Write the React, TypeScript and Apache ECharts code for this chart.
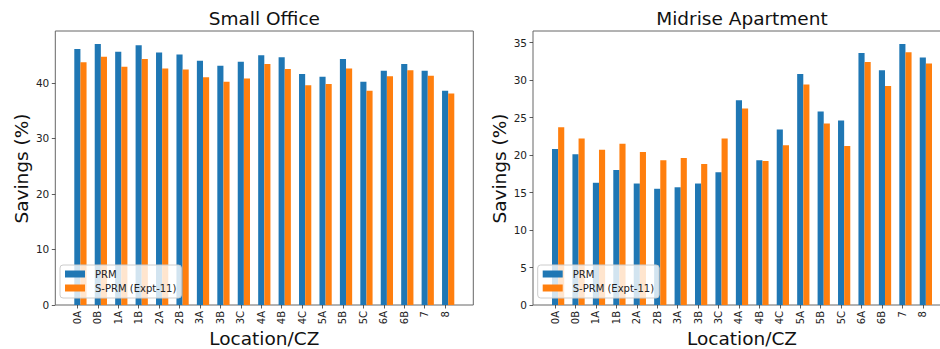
import React, { useEffect, useRef } from "react";
import * as echarts from "echarts";

const categories = ["0A", "0B", "1A", "1B", "2A", "2B", "3A", "3B", "3C", "4A", "4B", "4C", "5A", "5B", "5C", "6A", "6B", "7", "8"];
const officePRM = [46.1, 47.0, 45.6, 46.8, 45.5, 45.1, 44.0, 43.1, 43.8, 45.0, 44.6, 41.6, 41.1, 44.3, 40.2, 42.2, 43.4, 42.2, 38.6];
const officeSPRM = [43.7, 44.7, 42.9, 44.3, 42.6, 42.4, 41.0, 40.2, 40.8, 43.4, 42.5, 39.6, 39.8, 42.6, 38.6, 41.2, 42.3, 41.3, 38.1];
const aptPRM = [20.8, 20.1, 16.3, 18.0, 16.2, 15.5, 15.7, 16.2, 17.7, 27.3, 19.3, 23.4, 30.8, 25.8, 24.6, 33.6, 31.3, 34.8, 33.0];
const aptSPRM = [23.7, 22.2, 20.7, 21.5, 20.4, 19.3, 19.6, 18.8, 22.2, 26.2, 19.2, 21.3, 29.4, 24.2, 21.2, 32.4, 29.2, 33.7, 32.2];
const officeTicks = [0, 10, 20, 30, 40];
const aptTicks = [0, 5, 10, 15, 20, 25, 30, 35];
const seriesNames = ["PRM", "S-PRM (Expt-11)"];
const titles = ["Small Office", "Midrise Apartment"];

const FONT = "DejaVu Sans";
const BLUE = "#1f77b4";
const ORANGE = "#ff7f0e";
const BAR_W = 0.3;
const XMIN = -1.08;
const XMAX = 19.38;

export default function App() {
  const ref = useRef<HTMLDivElement>(null);
  useEffect(() => {
    if (!ref.current) return;
    const chart = echarts.init(ref.current, undefined, { renderer: "svg" });

    const grids = [
      { left: 55.3, top: 31, width: 418, height: 274 },
      { left: 533, top: 31, width: 418, height: 274 },
    ];
    const yMax = [Math.max(...officePRM, ...officeSPRM) * 1.05, Math.max(...aptPRM, ...aptSPRM) * 1.05];
    const yTicks = [officeTicks, aptTicks];
    const data = [
      [officePRM, officeSPRM],
      [aptPRM, aptSPRM],
    ];
    const idx = categories.map((_, i) => i);

    const xAxis: any[] = [];
    const yAxis: any[] = [];
    const series: any[] = [];
    const legend: any[] = [];
    const graphic: any[] = [];

    grids.forEach((g, gi) => {
      const pxPerUnit = g.width / (XMAX - XMIN);
      xAxis.push({
        type: "value",
        gridIndex: gi,
        min: XMIN,
        max: XMAX,
        axisLine: { show: false, onZero: false },
        splitLine: { show: false },
        axisTick: { show: true, customValues: idx, length: 3.5, lineStyle: { color: "#333", width: 0.8 } },
        axisLabel: {
          customValues: idx,
          rotate: 90,
          margin: 6,
          fontSize: 10,
          fontFamily: FONT,
          color: "#222",
          formatter: (v: number) => categories[Math.round(v)] ?? "",
        },
      });
      yAxis.push({
        type: "value",
        gridIndex: gi,
        min: 0,
        max: yMax[gi],
        axisLine: { show: false, onZero: false },
        splitLine: { show: false },
        axisTick: { show: true, customValues: yTicks[gi], length: 3.5, lineStyle: { color: "#333", width: 0.8 } },
        axisLabel: {
          customValues: yTicks[gi],
          margin: 6,
          fontSize: 10.5,
          fontFamily: FONT,
          color: "#222",
        },
      });
      const [a, b] = data[gi];
      series.push({
        type: "bar",
        name: seriesNames[0],
        xAxisIndex: gi,
        yAxisIndex: gi,
        barWidth: BAR_W * pxPerUnit,
        barGap: "-100%",
        itemStyle: { color: BLUE },
        data: a.map((v, i) => [i, v]),
      });
      series.push({
        type: "bar",
        name: seriesNames[1],
        xAxisIndex: gi,
        yAxisIndex: gi,
        barWidth: BAR_W * pxPerUnit,
        barGap: "-100%",
        itemStyle: { color: ORANGE },
        data: b.map((v, i) => [i + BAR_W, v]),
      });
      legend.push({
        data: seriesNames,
        orient: "vertical",
        left: g.left + 4.7,
        top: 265,
        itemWidth: 20,
        itemHeight: 7,
        itemGap: 2,
        icon: "rect",
        padding: [3, 5, 4, 5],
        backgroundColor: "rgba(255,255,255,0.8)",
        borderColor: "#ccc",
        borderWidth: 1,
        borderRadius: 3,
        selectedMode: false,
        textStyle: { fontSize: 10, fontFamily: FONT, color: "#222", lineHeight: 12, padding: [0, 0, 0, 5] },
      });
      const cx = g.left + g.width / 2;
      graphic.push({
        type: "text",
        x: cx,
        y: 18,
        style: { text: titles[gi], fontSize: 18.5, fontFamily: FONT, fill: "#111", textAlign: "center", textVerticalAlign: "middle" },
      });
      graphic.push({
        type: "text",
        x: cx,
        y: 338,
        style: { text: "Location/CZ", fontSize: 18.5, fontFamily: FONT, fill: "#111", textAlign: "center", textVerticalAlign: "middle" },
      });
      graphic.push({
        type: "text",
        x: gi === 0 ? 21 : 499,
        y: 168.5,
        rotation: Math.PI / 2,
        style: { text: "Savings (%)", fontSize: 18.5, fontFamily: FONT, fill: "#111", textAlign: "center", textVerticalAlign: "middle" },
      });
    });

    chart.setOption({
      animation: false,
      grid: grids.map((g) => ({ ...g, show: true, borderColor: "#666", borderWidth: 1, backgroundColor: "transparent" })),
      xAxis,
      yAxis,
      series,
      legend,
      graphic,
    });
    return () => chart.dispose();
  }, []);
  return <div ref={ref} style={{ position: "fixed", left: 0, top: 0, width: 970, height: 349, background: "#fff" }} />;
}
